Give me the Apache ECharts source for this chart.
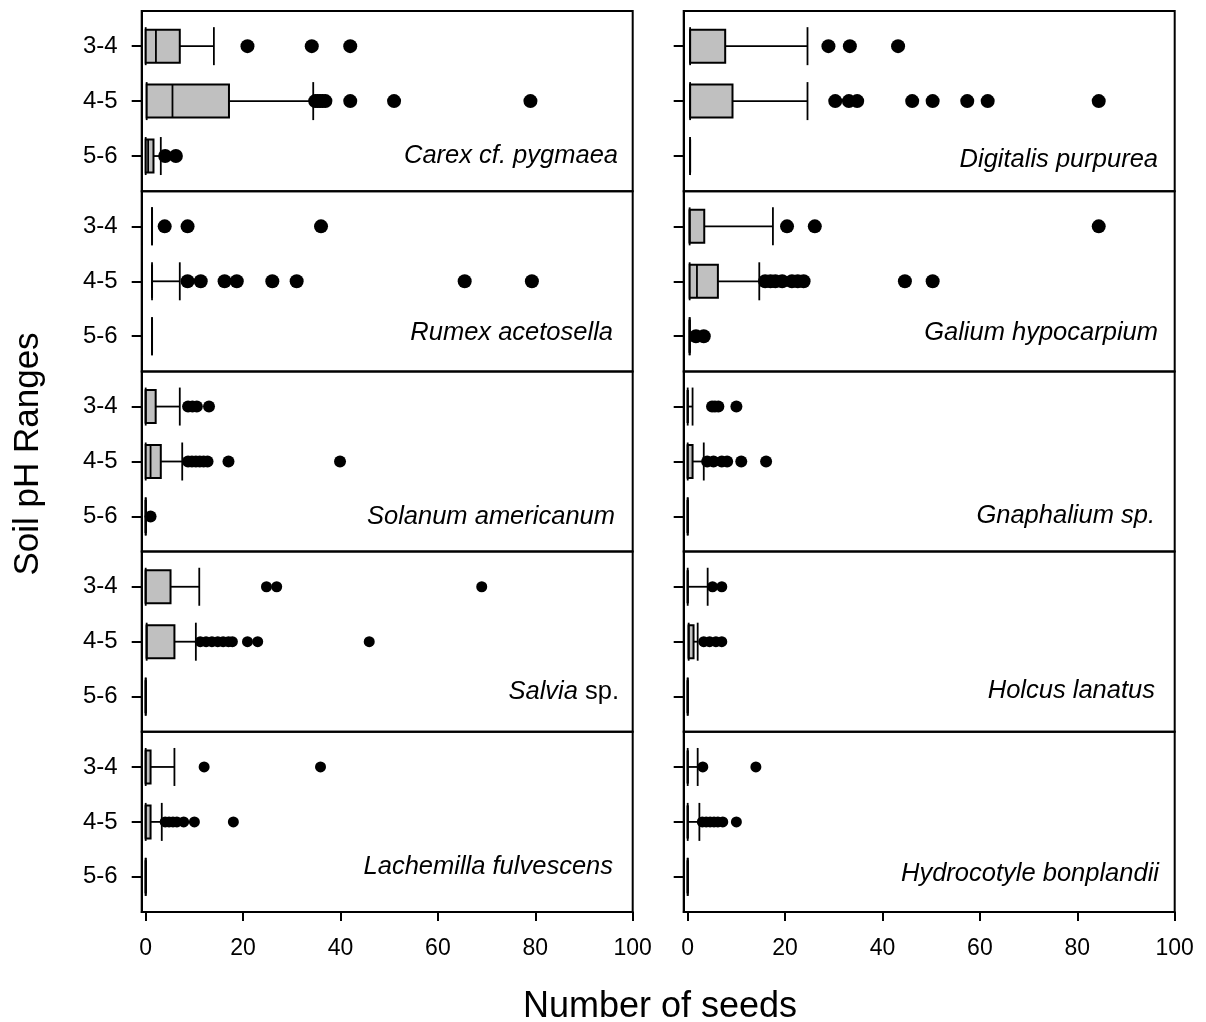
<!DOCTYPE html>
<html>
<head>
<meta charset="utf-8">
<title>Seeds by soil pH</title>
<script src="https://cdn.jsdelivr.net/npm/echarts@6/dist/echarts.min.js"></script>
<style>
  html, body { margin: 0; padding: 0; background: #fff; }
  #chart { width: 1206px; height: 1022px; }
</style>
</head>
<body>
<div id="chart"></div>
<script>
// tick labels
var phRanges = ['3-4', '4-5', '5-6'];
var xTicks = [0, 20, 40, 60, 80, 100];

// box stats per pH range: [min, q1, median, q3, max]
var carexBox = [[0, 0, 2.1, 7.0, 14.0], [0.2, 0.2, 5.5, 17.1, 34.4], [0, 0, 0.5, 1.6, 3.1]];
var carexOut = [[20.9, 34.1, 42.0], [34.8, 35.3, 35.8, 36.3, 36.9, 42.0, 51.0, 79.0], [4.0, 6.2]];

var rumexBox = [[1.3, 1.3, 1.3, 1.3, 1.3], [1.3, 1.3, 1.3, 1.3, 7.0], [1.3, 1.3, 1.3, 1.3, 1.3]];
var rumexOut = [[3.9, 8.6, 36.0], [8.6, 11.3, 16.2, 18.7, 26.0, 31.0, 65.5, 79.3], []];

var solanumBox = [[0, 0, 0, 2.05, 7.0], [0, 0, 1.0, 3.1, 7.5], [0, 0, 0, 0, 0]];
var solanumOut = [[8.7, 9.6, 10.5, 13.0], [8.7, 9.5, 10.3, 11.1, 11.9, 12.7, 17.0, 39.9], [1.0]];

var salviaBox = [[0, 0, 0, 5.1, 11.0], [0.2, 0.2, 0.2, 5.9, 10.3], [0, 0, 0, 0, 0]];
var salviaOut = [[24.8, 26.9, 69.0], [11.2, 12.4, 13.6, 14.8, 15.9, 17.0, 17.8, 20.9, 23.0, 45.9], []];

var lachemillaBox = [[0, 0, 0, 1.0, 5.9], [0, 0, 0, 1.0, 3.3], [0, 0, 0, 0, 0]];
var lachemillaOut = [[12.0, 35.9], [4.0, 4.8, 5.6, 6.4, 7.8, 10.0, 18.0], []];

var digitalisBox = [[0.5, 0.5, 0.5, 7.7, 24.6], [0.5, 0.5, 0.5, 9.2, 24.6], [0.5, 0.5, 0.5, 0.5, 0.5]];
var digitalisOut = [[28.9, 33.3, 43.2], [30.3, 33.1, 34.8, 46.1, 50.3, 57.4, 61.6, 84.4], []];

var galiumBox = [[0.4, 0.4, 0.4, 3.4, 17.5], [0.4, 0.4, 1.9, 6.2, 14.7], [0.4, 0.4, 0.4, 0.4, 0.4]];
var galiumOut = [[20.4, 26.1, 84.4], [15.9, 17.0, 18.0, 19.4, 21.4, 22.6, 23.8, 44.6, 50.3], [1.7, 3.3]];

var gnaphaliumBox = [[0, 0, 0, 0, 1.0], [0, 0, 0, 1.0, 3.3], [0, 0, 0, 0, 0]];
var gnaphaliumOut = [[5.0, 5.6, 6.3, 10.0], [4.0, 5.3, 7.0, 8.1, 11.0, 16.1], []];

var holcusBox = [[0, 0, 0, 0, 4.1], [0.2, 0.2, 0.2, 1.2, 2.05], [0, 0, 0, 0, 0]];
var holcusOut = [[5.1, 7.0], [3.3, 4.5, 5.8, 7.0], []];

var hydrocotyleBox = [[0, 0, 0, 0, 2.05], [0, 0, 0, 0, 2.4], [0, 0, 0, 0, 0]];
var hydrocotyleOut = [[3.1, 14.0], [3.0, 3.8, 4.6, 5.4, 6.2, 7.2, 10.0], []];

// panels: left column then right column, top to bottom
var panels = [
  { name: 'Carex cf. pygmaea', box: carexBox, out: carexOut },
  { name: 'Rumex acetosella', box: rumexBox, out: rumexOut },
  { name: 'Solanum americanum', box: solanumBox, out: solanumOut },
  { name: 'Salvia sp.', box: salviaBox, out: salviaOut },
  { name: 'Lachemilla fulvescens', box: lachemillaBox, out: lachemillaOut },
  { name: 'Digitalis purpurea', box: digitalisBox, out: digitalisOut },
  { name: 'Galium hypocarpium', box: galiumBox, out: galiumOut },
  { name: 'Gnaphalium sp.', box: gnaphaliumBox, out: gnaphaliumOut },
  { name: 'Holcus lanatus', box: holcusBox, out: holcusOut },
  { name: 'Hydrocotyle bonplandii', box: hydrocotyleBox, out: hydrocotyleOut }
];

// layout
var FONT = '"Liberation Sans", Arial, sans-serif';
var rowTop = 11, rowH = 180.2;
var colLeft = [141.7, 683.7], colW = 491;
var dotSize = [14, 14, 12, 11, 11];
var labelX = [[618, 613, 615, 619, 613], [1158, 1158, 1155, 1155, 1159]];
var labelY = [[156, 333, 517, 692, 867], [160, 333, 516, 691, 874]];

var chart = echarts.init(document.getElementById('chart'));

function renderBox(params, api) {
  var row = api.value(0);
  var pMin = api.coord([api.value(1), row]);
  var pQ1 = api.coord([api.value(2), row]);
  var pMed = api.coord([api.value(3), row]);
  var pQ3 = api.coord([api.value(4), row]);
  var pMax = api.coord([api.value(5), row]);
  var y = pMed[1];
  var bh = 16.5, ch = 19;
  var ls = { stroke: '#000', lineWidth: 1.8, fill: null };
  return {
    type: 'group',
    children: [
      { type: 'line', shape: { x1: pMin[0], y1: y, x2: pQ1[0], y2: y }, style: ls },
      { type: 'line', shape: { x1: pQ3[0], y1: y, x2: pMax[0], y2: y }, style: ls },
      { type: 'line', shape: { x1: pMin[0], y1: y - ch, x2: pMin[0], y2: y + ch }, style: ls },
      { type: 'line', shape: { x1: pMax[0], y1: y - ch, x2: pMax[0], y2: y + ch }, style: ls },
      { type: 'rect', shape: { x: pQ1[0], y: y - bh, width: pQ3[0] - pQ1[0], height: bh * 2 },
        style: { fill: '#c0c0c0', stroke: '#000', lineWidth: 2 } },
      { type: 'line', shape: { x1: pMed[0], y1: y - bh, x2: pMed[0], y2: y + bh }, style: ls }
    ]
  };
}

var grids = [], xAxes = [], yAxes = [], series = [], graphics = [];

panels.forEach(function (p, i) {
  var c = i < 5 ? 0 : 1;
  var r = i % 5;
  var bottom = r === 4;
  grids.push({
    left: colLeft[c], top: rowTop + r * rowH, width: colW, height: rowH,
    show: true, borderColor: '#000', borderWidth: 2
  });
  xAxes.push({
    gridIndex: i, type: 'value', min: -0.82, max: 100, position: 'bottom',
    splitLine: { show: false },
    axisLine: { show: bottom, onZero: false, lineStyle: { color: '#000', width: 2 } },
    axisTick: { show: bottom, length: 9, customValues: xTicks, lineStyle: { color: '#000', width: 2 } },
    axisLabel: { show: bottom, customValues: xTicks, margin: 25, fontSize: 23, color: '#000', fontFamily: FONT }
  });
  yAxes.push({
    gridIndex: i, type: 'value', inverse: true, min: -0.64, max: 2.64, position: 'left',
    splitLine: { show: false },
    axisLine: { show: true, onZero: false, lineStyle: { color: '#000', width: 2 } },
    axisTick: { show: true, length: 10, customValues: [0, 1, 2], lineStyle: { color: '#000', width: 2 } },
    axisLabel: {
      show: c === 0, customValues: [0, 1, 2], margin: 24, fontSize: 24, color: '#000', fontFamily: FONT,
      formatter: function (v) { return phRanges[Math.round(v)]; }
    }
  });

  var boxData = p.box.map(function (s, k) { return [k].concat(s); });
  series.push({
    type: 'custom', xAxisIndex: i, yAxisIndex: i, renderItem: renderBox,
    encode: { x: [1, 2, 3, 4, 5], y: 0 }, data: boxData, z: 2, silent: true
  });

  var outData = [];
  p.out.forEach(function (vals, k) {
    vals.forEach(function (v) { outData.push([v, k]); });
  });
  series.push({
    type: 'scatter', xAxisIndex: i, yAxisIndex: i, symbol: 'circle', symbolSize: dotSize[r],
    itemStyle: { color: '#000', opacity: 1 }, data: outData, z: 3, silent: true
  });

  // species label
  var style = {
    text: p.name, x: labelX[c][r], y: labelY[c][r], textAlign: 'right', textVerticalAlign: 'middle',
    fontSize: 25.5, fontFamily: FONT, fontStyle: 'italic', fill: '#000'
  };
  if (p.name === 'Salvia sp.') {
    style.text = '{i|Salvia} {n|sp.}';
    style.fontStyle = 'normal';
    style.rich = {
      i: { fontStyle: 'italic', fontSize: 25.5, fontFamily: FONT, fill: '#000' },
      n: { fontStyle: 'normal', fontSize: 25.5, fontFamily: FONT, fill: '#000' }
    };
  }
  graphics.push({ type: 'text', z: 10, style: style });
});

graphics.push({
  type: 'text', z: 10,
  style: { text: 'Number of seeds', x: 660, y: 1007, textAlign: 'center', textVerticalAlign: 'middle',
    fontSize: 36, fontFamily: FONT, fill: '#000' }
});
graphics.push({
  type: 'text', z: 10, x: 28, y: 454, rotation: Math.PI / 2,
  style: { text: 'Soil pH Ranges', x: 0, y: 0, textAlign: 'center', textVerticalAlign: 'middle',
    fontSize: 35, fontFamily: FONT, fill: '#000' }
});

chart.setOption({
  animation: false,
  backgroundColor: '#fff',
  grid: grids,
  xAxis: xAxes,
  yAxis: yAxes,
  series: series,
  graphic: graphics
});
</script>
</body>
</html>
